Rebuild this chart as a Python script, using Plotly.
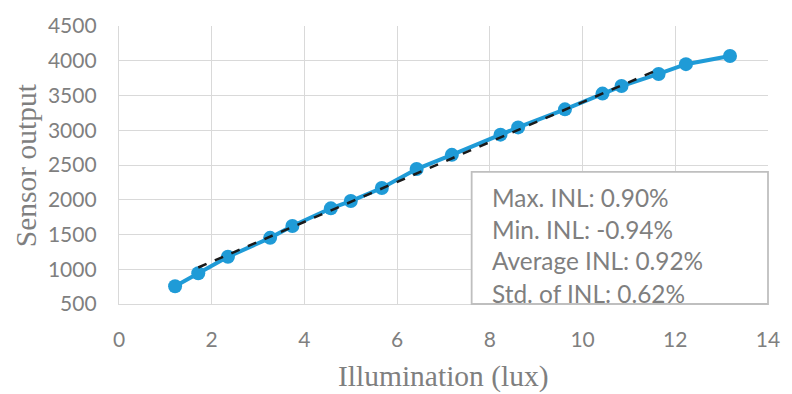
import plotly.graph_objects as go

# Data
illum = [1.21, 1.71, 2.35, 3.26, 3.74, 4.57, 5.00, 5.67, 6.42, 7.18,
         8.23, 8.61, 9.62, 10.43, 10.84, 11.64, 12.23, 13.18]
output = [755, 943, 1179, 1452, 1622, 1876, 1981, 2169, 2442, 2646,
          2937, 3041, 3301, 3527, 3636, 3810, 3951, 4069]
fit_x = [1.71, 11.64]
fit_y = [1025, 3875]
stats_lines = ["Max. INL: 0.90%", "Min. INL: -0.94%",
               "Average INL: 0.92%", "Std. of INL: 0.62%"]
x_ticks = [0, 2, 4, 6, 8, 10, 12, 14]
y_ticks = [500, 1000, 1500, 2000, 2500, 3000, 3500, 4000, 4500]

BLUE = "#1F9BD7"
GRID = "#d9d9d9"
TXT = "#7f7f7f"

fig = go.Figure()
fig.add_trace(go.Scatter(x=illum, y=output, mode="lines+markers",
                         line=dict(color=BLUE, width=4),
                         marker=dict(color=BLUE, size=14),
                         showlegend=False))
fig.add_trace(go.Scatter(x=fit_x, y=fit_y, mode="lines",
                         line=dict(color="#1a1a1a", width=2.5, dash="dash"),
                         showlegend=False))

W, H = 792, 394
L, R, T, B = 119, 16, 21, 90

fig.update_layout(
    width=W, height=H,
    margin=dict(l=L, r=R, t=T, b=B),
    paper_bgcolor="white", plot_bgcolor="white",
    font=dict(family="Lato", color=TXT),
    xaxis=dict(range=[0, 14], tickvals=x_ticks, showgrid=True,
               gridcolor=GRID, gridwidth=1.3, zeroline=False,
               showline=True, linecolor=GRID, linewidth=1.3,
               tickfont=dict(size=21, color=TXT), ticklabelstandoff=17,
               fixedrange=True),
    yaxis=dict(range=[500, 4500], tickvals=y_ticks, showgrid=True,
               gridcolor=GRID, gridwidth=1.3, zeroline=False,
               showline=True, linecolor=GRID, linewidth=1.3,
               tickfont=dict(size=21, color=TXT), ticklabelstandoff=17,
               fixedrange=True),
)

pw = W - L - R
ph = H - T - B

# Axis titles
fig.add_annotation(text="Illumination (lux)", xref="paper", yref="paper",
                   x=(448 - L) / pw, y=-(378 - (H - B)) / ph,
                   xanchor="center", yanchor="middle", showarrow=False,
                   font=dict(family="Liberation Serif", size=29.5, color=TXT))
fig.add_annotation(text="Sensor output", xref="paper", yref="paper",
                   x=(25 - L) / pw, y=0.5, textangle=-90,
                   xanchor="center", yanchor="middle", showarrow=False,
                   font=dict(family="Liberation Serif", size=29.5, color=TXT))

# Stats box
x0 = (476 - L) / pw
y1 = ((H - B) - 169.5) / ph
fig.add_shape(type="rect", xref="paper", yref="paper", x0=x0, x1=1.0,
              y0=0, y1=y1, fillcolor="white",
              line=dict(color="#bfbfbf", width=1.8), layer="above")
line_centers = [195.5, 227.7, 260, 293]
for txt, yc in zip(stats_lines, line_centers):
    fig.add_annotation(text=txt, xref="paper", yref="paper",
                       x=(495 - L) / pw, y=((H - B) - yc) / ph,
                       xanchor="left", yanchor="middle", showarrow=False,
                       font=dict(family="Lato", size=24.4, color=TXT))

fig.write_html("out.html")
